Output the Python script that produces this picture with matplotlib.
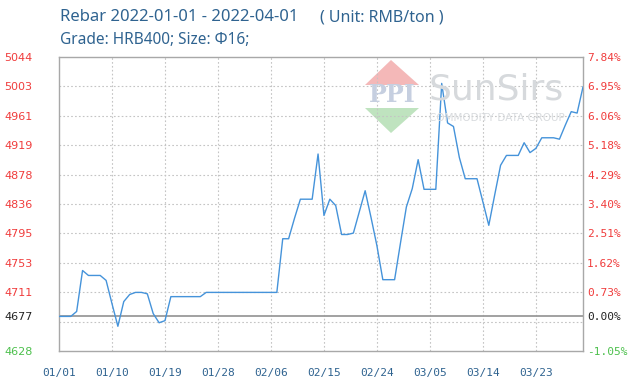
#rebar price chart - SunSirs style line chart with baseline percent axis

#Imports
import numpy as np
import matplotlib
matplotlib.use("Agg")
import matplotlib.pyplot as plt
from matplotlib.patches import Polygon


#Data (one value per day, 01/01 .. 03/31)
prices = [4677, 4677, 4677, 4684, 4742, 4735, 4735, 4735, 4728, 4695,
          4663, 4698, 4708, 4711, 4711, 4709, 4681, 4668, 4671, 4705,
          4705, 4705, 4705, 4705, 4705, 4711, 4711, 4711, 4711, 4711,
          4711, 4711, 4711, 4711, 4711, 4711, 4711, 4711, 4787, 4787,
          4816, 4843, 4843, 4843, 4907, 4820, 4843, 4834, 4793, 4793,
          4795, 4825, 4855, 4817, 4777, 4729, 4729, 4729, 4781, 4832,
          4858, 4899, 4857, 4857, 4857, 5007, 4951, 4946, 4902, 4872,
          4872, 4872, 4839, 4806, 4849, 4891, 4905, 4905, 4905, 4923,
          4909, 4915, 4930, 4930, 4930, 4928, 4948, 4967, 4965, 5002]
days = np.arange(len(prices))
base = 4677
xtick_pos = [0, 9, 18, 27, 36, 45, 54, 63, 72, 81]
xtick_labels = ["01/01", "01/10", "01/19", "01/28", "02/06",
                "02/15", "02/24", "03/05", "03/14", "03/23"]
ymin, ymax = 4628, 5044.4
left_labels = ["4628", "", "4711", "4753", "4795", "4836",
               "4878", "4919", "4961", "5003", "5044"]
right_labels = ["-1.05%", "", "0.73%", "1.62%", "2.51%", "3.40%",
                "4.29%", "5.18%", "6.06%", "6.95%", "7.84%"]

red = "#f03c3c"
green = "#4cc04c"
blue_txt = "#2f6390"

fig = plt.figure(figsize=(6.4, 3.86), dpi=100)
ax = fig.add_axes([59/640, 35/386, 524/640, 294/386])
ax.set_xlim(0, 89)
ax.set_ylim(ymin, ymax)

#grid
grid_vals = np.linspace(ymin, ymax, 11)
for g in grid_vals[1:-1]:
    ax.axhline(g, color="#c4c4c4", lw=0.8, ls=(0, (1.5, 2)), zorder=1)
for p in xtick_pos[1:]:
    ax.axvline(p, color="#c4c4c4", lw=0.8, ls=(0, (1.5, 2)), zorder=1)
ax.axhline(base, color="#9a9a9a", lw=1.3, zorder=2)

#watermark
ax.add_patch(Polygon([(365/640, 1-85/386), (391/640, 1-60/386), (419/640, 1-85/386)],
                     closed=True, transform=fig.transFigure, fc="#f4b8b8", ec="none", zorder=0))
ax.add_patch(Polygon([(365/640, 1-108/386), (391/640, 1-133/386), (419/640, 1-108/386)],
                     closed=True, transform=fig.transFigure, fc="#bfe3bf", ec="none", zorder=0))
fig.text(392/640, 1-95/386, "PPI", ha="center", va="center", fontsize=17,
         family="DejaVu Serif", fontweight="bold", color="#c6cfe0", zorder=0)
fig.text(429/640, 1-90/386, "SunSirs", ha="left", va="center", fontsize=26,
         family="DejaVu Sans", color="#d6d9dc", zorder=0)
fig.text(497/640, 1-118/386, "COMMODITY DATA GROUP", ha="center", va="center", fontsize=7.5,
         family="DejaVu Sans", color="#d8dbde", zorder=0)

#line
ax.plot(days, prices, color="#4593da", lw=1.0, zorder=3)

for s in ax.spines.values():
    s.set_color("#a8a8a8")
    s.set_linewidth(1)

#left ticks
yt = [grid_vals[0], base] + list(grid_vals[2:])
ylab = [left_labels[0], "4677"] + left_labels[2:]
ax.set_yticks(yt)
ax.set_yticklabels(ylab, family="DejaVu Sans", fontsize=8)
for i, t in enumerate(ax.get_yticklabels()):
    t.set_color(green if i == 0 else ("#222222" if i == 1 else red))
ax.tick_params(axis="y", length=0, pad=19)

#right ticks
ax2 = ax.twinx()
ax2.set_ylim(ymin, ymax)
rlab = [right_labels[0], "0.00%"] + right_labels[2:]
ax2.set_yticks(yt)
ax2.set_yticklabels(rlab, family="DejaVu Sans Mono", fontsize=8)
for i, t in enumerate(ax2.get_yticklabels()):
    t.set_color(green if i == 0 else ("#222222" if i == 1 else red))
ax2.tick_params(axis="y", length=0, pad=3)
for s in ax2.spines.values():
    s.set_visible(False)

#x ticks
ax.set_xticks(xtick_pos)
ax.set_xticklabels(xtick_labels, family="DejaVu Sans Mono", fontsize=8, color=blue_txt)
ax.tick_params(axis="x", length=0, pad=12)

#titles
fig.text(60/640, 1-17/386, "Rebar 2022-01-01 - 2022-04-01", ha="left", va="center",
         fontsize=12, family="Noto Sans", color=blue_txt)
fig.text(320/640, 1-17/386, "( Unit: RMB/ton )", ha="left", va="center",
         fontsize=11.5, family="Noto Sans", color=blue_txt)
fig.text(60/640, 1-40/386, "Grade: HRB400; Size: \u03a616;", ha="left", va="center",
         fontsize=11.1, family="Noto Sans", color=blue_txt)

plt.savefig("out.png", dpi=100)
